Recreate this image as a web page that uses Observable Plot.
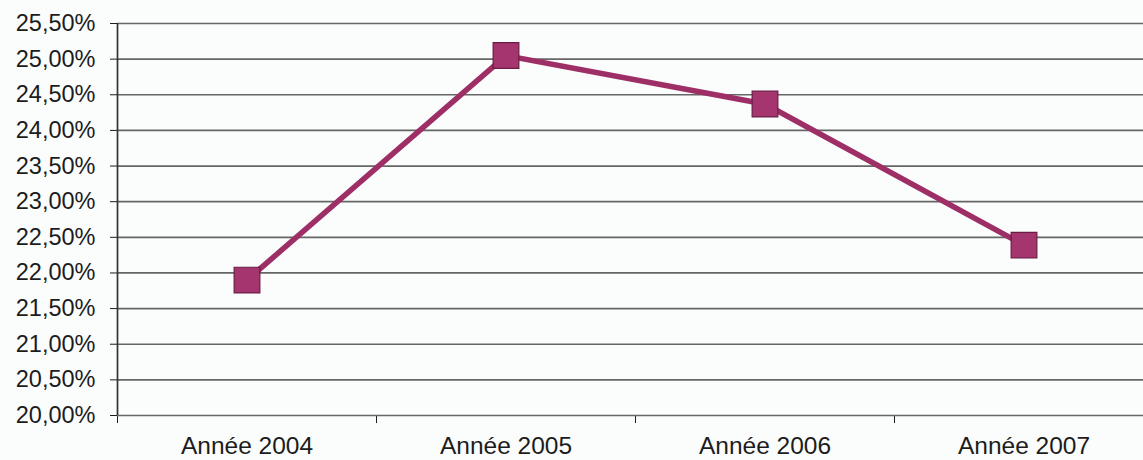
<!DOCTYPE html>
<html>
<head>
<meta charset="utf-8">
<script src="https://cdn.jsdelivr.net/npm/d3@7"></script>
<script src="https://cdn.jsdelivr.net/npm/@observablehq/plot@0.6"></script>
<style>
  html, body { margin: 0; padding: 0; background: #fbfcfc; overflow: hidden; }
  #chart { width: 1143px; height: 460px; overflow: hidden; }
  #chart svg { max-width: none !important; }
</style>
</head>
<body>
<div id="chart"></div>
<script>
const categories = ["Année 2004", "Année 2005", "Année 2006", "Année 2007"];
const values = [21.90, 25.05, 24.37, 22.39];
const yTicks = [20, 20.5, 21, 21.5, 22, 22.5, 23, 23.5, 24, 24.5, 25, 25.5];

const data = categories.map((c, i) => ({cat: c, idx: i + 0.5, value: values[i]}));
const boundaries = d3.range(categories.length + 1);
const fmt = d => d.toFixed(2).replace(".", ",") + "%";

const lineColor = "#9e2f66";
const chart = Plot.plot({
  width: 1154,
  height: 460,
  marginLeft: 117,
  marginRight: 1,
  marginTop: 23,
  marginBottom: 45,
  style: {fontFamily: "'Liberation Sans', Arial, sans-serif", fontSize: "23.5px", color: "#1c1c1c", background: "#fbfcfc", maxWidth: "none"},
  x: {domain: [0, categories.length], ticks: boundaries, tickFormat: () => "", tickSize: 8, label: null},
  y: {domain: [20, 25.5], ticks: yTicks, tickFormat: fmt, tickSize: 7, tickPadding: 15, label: null},
  marks: [
    Plot.ruleY(yTicks, {stroke: "#666", strokeWidth: 1.7}),
    Plot.ruleX([0], {stroke: "#333", strokeWidth: 1.7}),
    Plot.line(data, {x: "idx", y: "value", stroke: lineColor, strokeWidth: 5.5}),
    Plot.dot(data, {x: "idx", y: "value", symbol: "square", r: 14.5, fill: "#a5356e", stroke: "#6a1c42", strokeWidth: 1.2}),
    Plot.text(data, {x: "idx", y: () => 20, text: "cat", dy: 31, fontSize: 24.5, fill: "#1c1c1c"})
  ]
});
chart.style.maxWidth = "none";
document.getElementById("chart").appendChild(chart);
</script>
</body>
</html>
